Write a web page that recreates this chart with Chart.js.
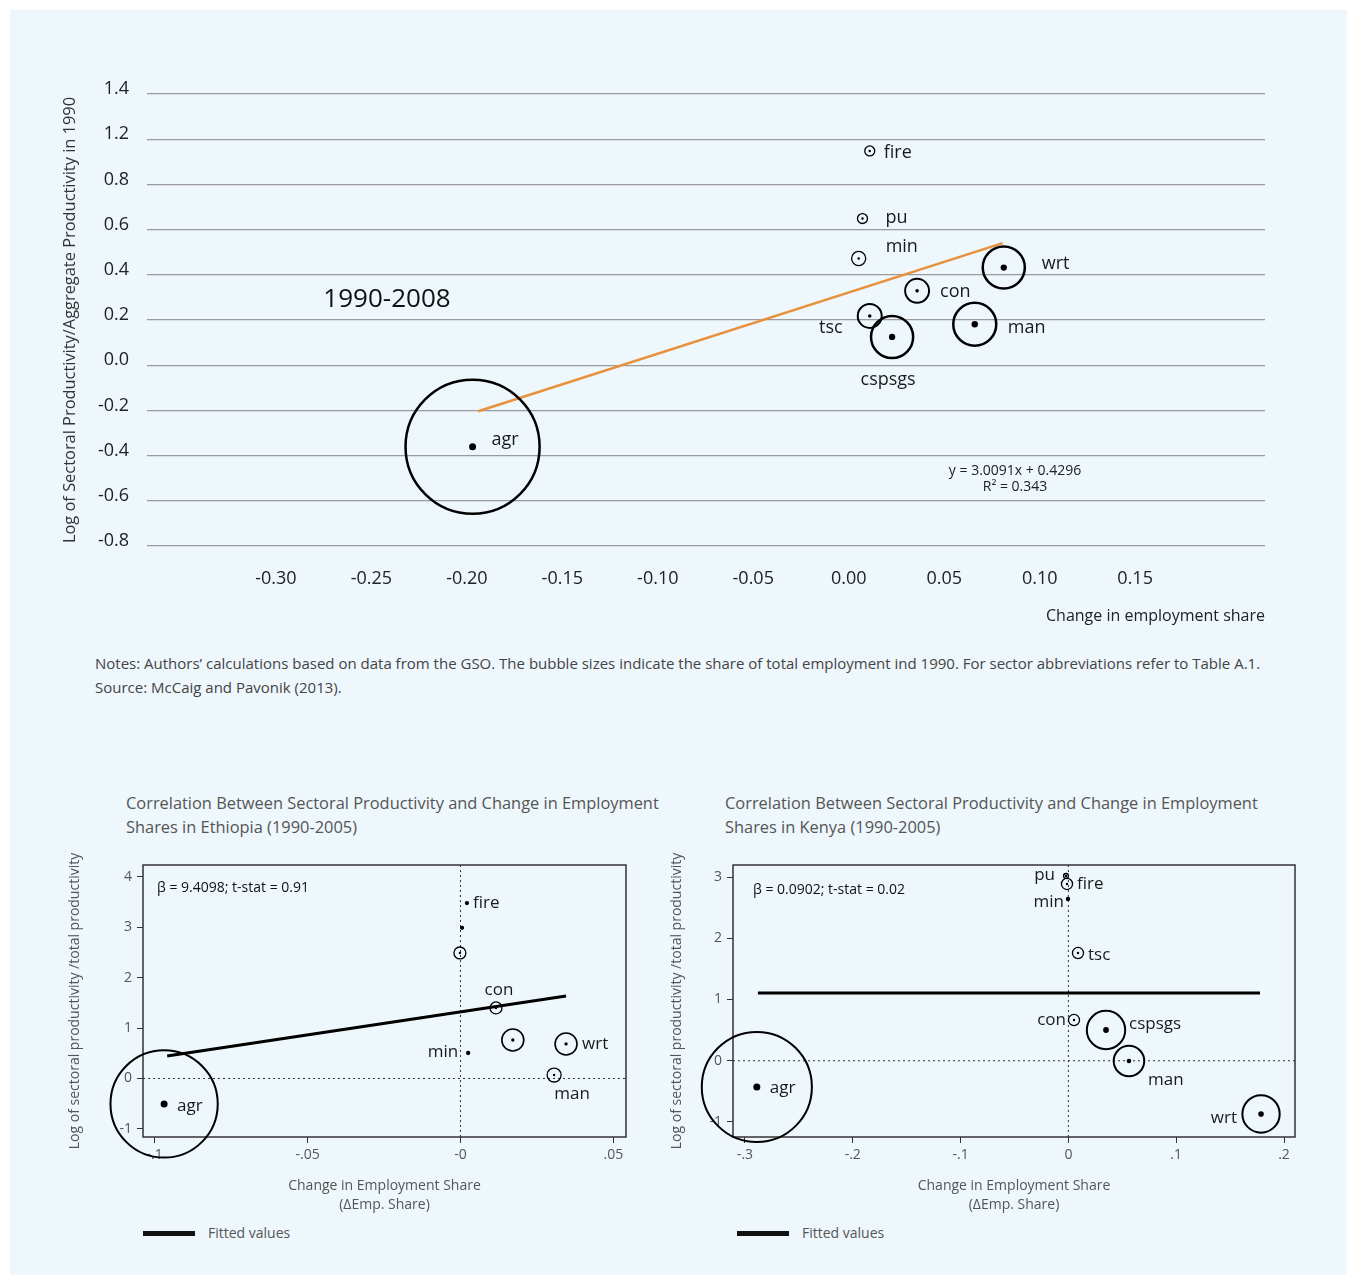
<!DOCTYPE html>
<html>
<head>
<meta charset="utf-8">
<title>Sectoral productivity vs change in employment share</title>
<script src="https://cdn.jsdelivr.net/npm/chart.js"></script>
<style>
  body { margin: 0; background: #fff; font-family: "Open Sans", sans-serif; width: 1347px; height: 1275px; position: relative; overflow: hidden; }
  #bg { position: absolute; left: 10px; top: 10px; right: 0; bottom: 0; background: #eef7fc; }
  canvas, .txt { position: absolute; }
  .txt { white-space: nowrap; }
  .legline { position: absolute; height: 5px; background: #111; }
</style>
</head>
<body>
<div id="bg"></div>

<canvas id="vn" width="1230" height="570" style="left:50px;top:70px"></canvas>
<div class="txt" style="left:287px;top:281px;width:200px;text-align:center;font-size:26px;line-height:32px;color:#111">1990-2008</div>
<div class="txt" style="left:915px;top:462px;width:200px;text-align:center;font-size:14px;line-height:16px;color:#222">y = 3.0091x + 0.4296<br>R² = 0.343</div>

<div class="txt" style="left:95px;top:651px;font-size:15px;line-height:24px;color:#444">Notes: Authors’ calculations based on data from the GSO. The bubble sizes indicate the share of total employment ind 1990. For sector abbreviations refer to Table A.1.<br>Source: McCaig and Pavonik (2013).</div>

<div class="txt" style="left:126px;top:791px;font-size:16.4px;line-height:24px;color:#555">Correlation Between Sectoral Productivity and Change in Employment<br>Shares in Ethiopia (1990-2005)</div>
<div class="txt" style="left:725px;top:791px;font-size:16.4px;line-height:24px;color:#555">Correlation Between Sectoral Productivity and Change in Employment<br>Shares in Kenya (1990-2005)</div>

<canvas id="et" width="590" height="380" style="left:60px;top:840px"></canvas>
<canvas id="ke" width="660" height="380" style="left:660px;top:840px"></canvas>

<div class="txt" style="left:157px;top:878px;font-size:14px;line-height:18px;color:#111">β = 9.4098; t-stat = 0.91</div>
<div class="txt" style="left:753px;top:880px;font-size:14px;line-height:18px;color:#111">β = 0.0902; t-stat = 0.02</div>

<div class="legline" style="left:143px;top:1231px;width:52px"></div>
<div class="txt" style="left:208px;top:1223px;font-size:14px;line-height:20px;color:#555">Fitted values</div>
<div class="legline" style="left:737px;top:1231px;width:52px"></div>
<div class="txt" style="left:802px;top:1223px;font-size:14px;line-height:20px;color:#555">Fitted values</div>

<script>
// ---- Vietnam 1990-2008 (top) ----
const vnSectors = ['agr', 'min', 'man', 'pu', 'con', 'wrt', 'tsc', 'fire', 'cspsgs'];
const vnEmpChange = [-0.197, 0.0052, 0.066, 0.0072, 0.0358, 0.0812, 0.011, 0.011, 0.0227];
const vnLogProd = [-0.361, 0.472, 0.181, 0.649, 0.329, 0.432, 0.218, 0.948, 0.125];
const vnEmpShare1990 = [0.72, 0.008, 0.074, 0.004, 0.023, 0.071, 0.023, 0.004, 0.071];
const vnFitX = [-0.194, 0.0806];
const vnFitY = [-0.204, 0.540];
const vnXTicks = [-0.30, -0.25, -0.20, -0.15, -0.10, -0.05, 0.00, 0.05, 0.10, 0.15];
const vnYTicks = [-0.8, -0.6, -0.4, -0.2, 0.0, 0.2, 0.4, 0.6, 0.8, 1.0, 1.2];
const vnYTickLabels = ['-0.8', '-0.6', '-0.4', '-0.2', '0.0', '0.2', '0.4', '0.6', '0.8', '1.2', '1.4'];

// ---- Ethiopia 1990-2005 ----
const etSectors = ['agr', 'fire', '', '', 'con', '', 'wrt', 'min', 'man'];
const etEmpChange = [-0.0969, 0.0021, 0.0005, -0.0002, 0.0116, 0.0171, 0.0345, 0.0025, 0.0306];
const etLogProd = [-0.506, 3.48, 2.99, 2.49, 1.40, 0.764, 0.685, 0.506, 0.069];
const etEmpShare = [0.885, 0.0007, 0.0007, 0.011, 0.011, 0.037, 0.037, 0.0007, 0.015];
const etFitX = [-0.0959, 0.0345];
const etFitY = [0.446, 1.637];
const etXTicks = [-0.10, -0.05, 0, 0.05];
const etXTickLabels = ['-.1', '-.05', '-0', '.05'];
const etYTicks = [-1, 0, 1, 2, 3, 4];

// ---- Kenya 1990-2005 ----
const keSectors = ['pu', 'fire', 'min', 'tsc', 'con', 'cspsgs', 'man', 'wrt', 'agr'];
const keEmpChange = [-0.0022, -0.0013, -0.0004, 0.0089, 0.0052, 0.0349, 0.0562, 0.1787, -0.289];
const keLogProd = [3.017, 2.886, 2.641, 1.759, 0.665, 0.502, -0.004, -0.869, -0.428];
const keEmpShare = [0.0015, 0.0075, 0.0006, 0.0075, 0.0075, 0.09, 0.057, 0.085, 0.74];
const keFitX = [-0.288, 0.1777];
const keFitY = [1.106, 1.106];
const keXTicks = [-0.3, -0.2, -0.1, 0, 0.1, 0.2];
const keXTickLabels = ['-.3', '-.2', '-.1', '0', '.1', '.2'];
const keYTicks = [-1, 0, 1, 2, 3];

const FONT = '"Open Sans", sans-serif';

function pts(xs, ys) { return xs.map((x, i) => ({ x: x, y: ys[i] })); }

// sector labels next to each bubble
const pointLabels = {
  id: 'pointLabels',
  afterDatasetsDraw(chart, args, opts) {
    const ctx = chart.ctx;
    const meta = chart.getDatasetMeta(0);
    ctx.save();
    ctx.font = opts.size + 'px ' + FONT;
    ctx.fillStyle = '#1a1a1a';
    ctx.textBaseline = 'middle';
    meta.data.forEach((pt, i) => {
      if (!opts.labels[i]) return;
      const o = opts.offsets[i];
      ctx.textAlign = o[2];
      ctx.fillText(opts.labels[i], pt.x + o[0], pt.y + o[1]);
    });
    ctx.restore();
  }
};

// box round the plot plus dotted zero lines (bottom charts)
const frameZero = {
  id: 'frameZero',
  beforeDatasetsDraw(chart) {
    const { ctx, chartArea: a } = chart;
    const x0 = chart.scales.x.getPixelForValue(0);
    const y0 = chart.scales.y.getPixelForValue(0);
    ctx.save();
    ctx.strokeStyle = '#333';
    ctx.lineWidth = 1;
    ctx.setLineDash([2, 3]);
    ctx.beginPath();
    ctx.moveTo(x0, a.top); ctx.lineTo(x0, a.bottom);
    ctx.moveTo(a.left, y0); ctx.lineTo(a.right, y0);
    ctx.stroke();
    ctx.setLineDash([]);
    ctx.lineWidth = 1.5;
    ctx.strokeRect(a.left, a.top, a.right - a.left, a.bottom - a.top);
    ctx.restore();
  }
};

// rings: bubble area ~ employment share; thin rings for the small ones
function bubbleSets(xs, ys, shares, k, ring, fit, fitColor, fitWidth) {
  const radii = shares.map(s => k * Math.sqrt(s));
  return [
    {
      data: pts(xs, ys), clip: false,
      pointStyle: 'circle', pointRadius: radii,
      pointBackgroundColor: 'rgba(0,0,0,0)', pointBorderColor: '#000',
      pointBorderWidth: radii.map(r => r >= 15 ? ring : (r >= 9 ? ring * 0.8 : 1.3))
    },
    {
      data: pts(xs, ys), clip: false,
      pointStyle: 'circle', pointRadius: radii.map(r => Math.min(3.5, Math.max(1.2, r * 0.15))),
      pointBackgroundColor: '#000', pointBorderWidth: 0
    },
    {
      data: pts(fit[0], fit[1]), showLine: true, clip: false,
      borderColor: fitColor, borderWidth: fitWidth, pointRadius: 0
    }
  ];
}

const fixedTicks = arr => scale => { scale.ticks = arr.map(v => ({ value: v })); };
// fixed axis box, no extra room for overhanging labels
const fixedBox = (w, h) => s => {
  if (w) s.width = w;
  if (h) s.height = h;
  s.paddingTop = 0; s.paddingBottom = 0; s.paddingLeft = 0; s.paddingRight = 0;
};

// top chart
new Chart(document.getElementById('vn'), {
  type: 'scatter',
  data: { datasets: bubbleSets(vnEmpChange, vnLogProd, vnEmpShare1990, 79, 2.5, [vnFitX, vnFitY], '#e8913c', 2.5) },
  options: {
    responsive: false, animation: false, events: [], devicePixelRatio: 1,
    layout: { autoPadding: false, padding: { top: 24, right: 15, left: 0, bottom: 0 } },
    plugins: {
      legend: { display: false }, tooltip: { enabled: false },
      pointLabels: {
        labels: vnSectors, size: 18,
        offsets: [[19, -7, 'left'], [27, -12, 'left'], [33, 4, 'left'], [23, -1, 'left'], [23, 1, 'left'],
                  [38, -4, 'left'], [-27, 12, 'right'], [14, 2, 'left'], [-4, 43, 'center']]
      }
    },
    scales: {
      x: {
        type: 'linear', min: -0.3675, max: 0.218,
        afterBuildTicks: fixedTicks(vnXTicks),
        afterFit: fixedBox(0, 94),
        grid: { display: false }, border: { display: false },
        ticks: { padding: 14, color: '#222', font: { family: FONT, size: 18 }, callback: v => v.toFixed(2) },
        title: { display: true, text: 'Change in employment share', align: 'end', color: '#222',
                 font: { family: FONT, size: 16 }, padding: { top: 0, bottom: 14 } }
      },
      y: {
        type: 'linear', min: -0.8, max: 1.2,
        afterBuildTicks: fixedTicks(vnYTicks),
        afterFit: fixedBox(97, 0),
        grid: { color: '#9b9b9b', lineWidth: 1.2, drawTicks: false }, border: { display: false },
        ticks: { padding: 18, labelOffset: -5, color: '#222', font: { family: FONT, size: 18 },
                 callback: (v, i) => vnYTickLabels[i] },
        title: { display: true, text: 'Log of Sectoral Productivity/Aggregate Productivity in 1990', color: '#333',
                 font: { family: FONT, size: 16.4 }, padding: { top: 10, bottom: 0 } }
      }
    }
  },
  plugins: [pointLabels]
});

function smallChart(id, d) {
  new Chart(document.getElementById(id), {
    type: 'scatter',
    data: { datasets: bubbleSets(d.xs, d.ys, d.shares, d.k, 2, d.fit, '#000', 3) },
    options: {
      responsive: false, animation: false, events: [], devicePixelRatio: 1,
      layout: { autoPadding: false, padding: { top: 25, right: d.right, left: 0, bottom: 0 } },
      plugins: {
        legend: { display: false }, tooltip: { enabled: false },
        pointLabels: { labels: d.labels, size: 17, offsets: d.offsets }
      },
      scales: {
        x: {
          type: 'linear', min: d.xRange[0], max: d.xRange[1],
          afterBuildTicks: fixedTicks(d.xTicks),
          afterFit: fixedBox(0, 83),
          grid: { drawOnChartArea: false, drawTicks: true, tickLength: 6, color: '#333' },
          border: { display: false },
          ticks: { padding: 4, color: '#555', font: { family: FONT, size: 14 }, callback: (v, i) => d.xTickLabels[i] },
          title: { display: true, text: ['Change in Employment Share', '(ΔEmp. Share)'], color: '#555',
                   font: { family: FONT, size: 14, lineHeight: 1.35 }, padding: { top: 0, bottom: 5.5 } }
        },
        y: {
          type: 'linear', min: d.yRange[0], max: d.yRange[1],
          afterBuildTicks: fixedTicks(d.yTicks),
          afterFit: fixedBox(d.yWidth, 0),
          grid: { drawOnChartArea: false, drawTicks: true, tickLength: 6, color: '#333' },
          border: { display: false },
          ticks: { padding: 5, color: '#555', font: { family: FONT, size: 14 } },
          title: { display: true, text: 'Log of sectoral productivity /total productivity', color: '#555',
                   font: { family: FONT, size: 14 }, padding: { top: d.yTitlePad, bottom: 0 } }
        }
      }
    },
    plugins: [frameZero, pointLabels]
  });
}

smallChart('et', {
  xs: etEmpChange, ys: etLogProd, shares: etEmpShare, k: 57, fit: [etFitX, etFitY],
  labels: etSectors,
  offsets: [[13, 2, 'left'], [6, 0, 'left'], [0, 0, 'left'], [0, 0, 'left'], [3, -18, 'center'],
            [0, 0, 'left'], [16, 0, 'left'], [-10, -1, 'right'], [18, 19, 'center']],
  xRange: [-0.1038, 0.0541], yRange: [-1.161, 4.236],
  xTicks: etXTicks, xTickLabels: etXTickLabels, yTicks: etYTicks,
  right: 24, yWidth: 83, yTitlePad: 6.6
});

smallChart('ke', {
  xs: keEmpChange, ys: keLogProd, shares: keEmpShare, k: 64, fit: [keFitX, keFitY],
  labels: keSectors,
  offsets: [[-11, -1, 'right'], [10, 0, 'left'], [-4, 3, 'right'], [10, 2, 'left'], [-8, 0, 'right'],
            [23, -6, 'left'], [19, 19, 'left'], [-24, 4, 'right'], [13, 1, 'left']],
  xRange: [-0.3111, 0.2102], yRange: [-1.245, 3.196],
  xTicks: keXTicks, xTickLabels: keXTickLabels, yTicks: keYTicks,
  right: 25, yWidth: 73, yTitlePad: 8.6
});
</script>
</body>
</html>
